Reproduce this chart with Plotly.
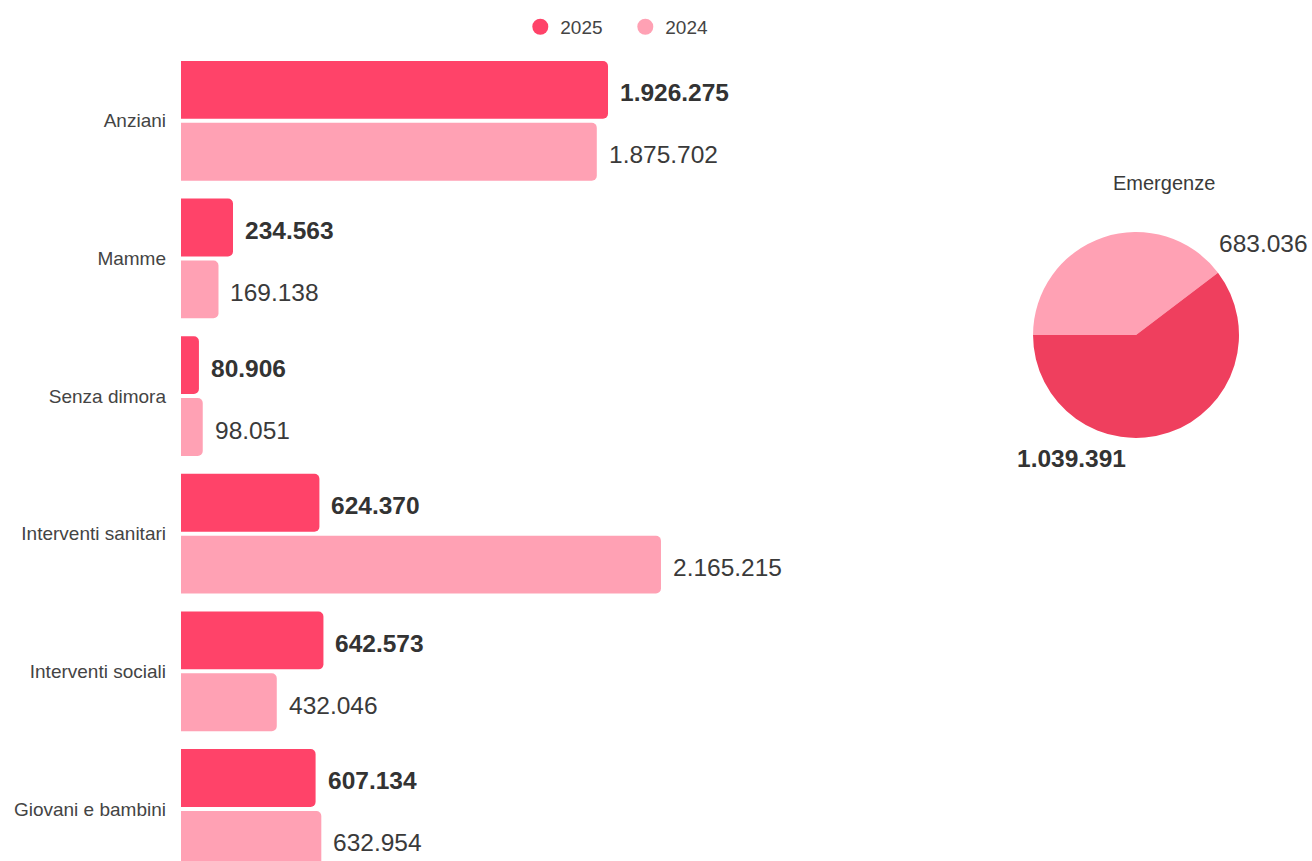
import plotly.graph_objects as go

# ---- data ----
categories = ["Anziani", "Mamme", "Senza dimora", "Interventi sanitari",
              "Interventi sociali", "Giovani e bambini"]
values_2025 = [1926275, 234563, 80906, 624370, 642573, 607134]
values_2024 = [1875702, 169138, 98051, 2165215, 432046, 632954]
series_names = ["2025", "2024"]
pie_title = "Emergenze"
pie_labels = ["2024", "2025"]
pie_values = [683036, 1039391]

# ---- styles ----
C25 = "#FF4369"
C24 = "#FFA1B4"
C25_PIE = "#EF3F5E"
FONT = "Liberation Sans, Arial, sans-serif"
TXT = "#333333"
VAL_SIZE = 24.5
SMALL = 19


def fmt(v):
    return f"{v:,}".replace(",", ".")


fig = go.Figure()

fig.add_trace(go.Bar(
    y=categories, x=values_2025, orientation="h", name=series_names[0],
    marker=dict(color=C25, cornerradius=5, line=dict(width=0)),
    showlegend=False, hoverinfo="skip",
))
fig.add_trace(go.Bar(
    y=categories, x=values_2024, orientation="h", name=series_names[1],
    marker=dict(color=C24, cornerradius=5, line=dict(width=0)),
    showlegend=False, hoverinfo="skip",
))

# legend-only circle markers
for name, col in zip(series_names, [C25, C24]):
    fig.add_trace(go.Scatter(
        x=[None], y=[None], mode="markers", name=name,
        marker=dict(color=col, size=18, symbol="circle"),
        showlegend=True,
    ))

fig.add_trace(go.Pie(
    labels=pie_labels, values=pie_values, sort=False,
    direction="clockwise", rotation=270,
    marker=dict(colors=[C24, C25_PIE], line=dict(width=0)),
    textinfo="none", showlegend=False, hoverinfo="skip",
    domain=dict(x=[0.7533, 0.9355], y=[0.5229, 0.7775]),
))

annotations = []
for cat, v25, v24 in zip(categories, values_2025, values_2024):
    annotations.append(dict(
        x=v25, y=cat, xref="x", yref="y", text=f"<b>{fmt(v25)}</b>",
        showarrow=False, xanchor="left", yanchor="middle", xshift=10, yshift=28,
        font=dict(size=VAL_SIZE, color=TXT, family=FONT),
    ))
    annotations.append(dict(
        x=v24, y=cat, xref="x", yref="y", text=fmt(v24),
        showarrow=False, xanchor="left", yanchor="middle", xshift=10, yshift=-34,
        font=dict(size=VAL_SIZE, color="#3a3a3a", family=FONT),
    ))

# pie title and labels
annotations.append(dict(
    x=0.869, y=0.838, xref="paper", yref="paper", text=pie_title,
    showarrow=False, xanchor="center", yanchor="middle",
    font=dict(size=20, color="#3a3a3a", family=FONT),
))
annotations.append(dict(
    x=0.9982, y=0.7639, xref="paper", yref="paper", text=fmt(pie_values[0]),
    showarrow=False, xanchor="right", yanchor="middle",
    font=dict(size=VAL_SIZE, color="#3a3a3a", family=FONT),
))
annotations.append(dict(
    x=0.787, y=0.498, xref="paper", yref="paper", text=f"<b>{fmt(pie_values[1])}</b>",
    showarrow=False, xanchor="center", yanchor="middle",
    font=dict(size=VAL_SIZE, color=TXT, family=FONT),
))

fig.update_layout(
    width=1312, height=861,
    margin=dict(l=181, r=0, t=52, b=0),
    paper_bgcolor="white", plot_bgcolor="white",
    barmode="group", bargap=0.101, bargroupgap=0.0645,
    font=dict(family=FONT, size=SMALL, color="#444444"),
    xaxis=dict(domain=[0, 0.588], range=[0, 3000000], visible=False,
               showgrid=False, zeroline=False),
    yaxis=dict(type="category", categoryorder="array", categoryarray=categories,
               range=[5.378, -0.5], showgrid=False, zeroline=False, showline=False,
               ticks="", ticklabelstandoff=14,
               tickfont=dict(size=SMALL, color="#444444", family=FONT)),
    legend=dict(orientation="h", x=0.30, xanchor="left", y=1.031, yanchor="middle",
                font=dict(size=SMALL, color="#444444", family=FONT),
                itemsizing="trace", bgcolor="rgba(0,0,0,0)",
                entrywidth=60, entrywidthmode="pixels"),
    annotations=annotations,
    hovermode=False,
)

fig.write_html("out.html",
               config={"displayModeBar": False},
               post_script="document.body.style.margin='0';document.body.style.overflow='hidden';")
